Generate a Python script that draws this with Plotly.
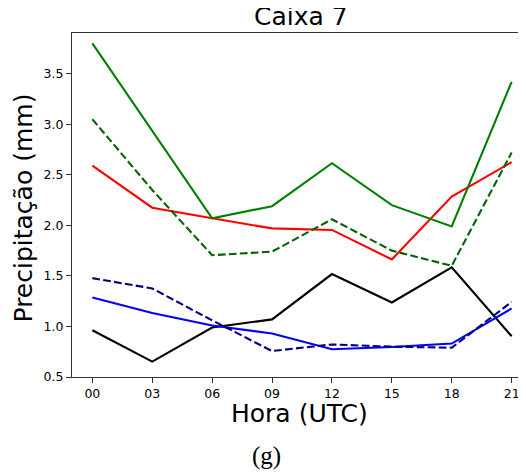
import plotly.graph_objects as go

# hours (UTC) and tick labels
hours = [0, 3, 6, 9, 12, 15, 18, 21]
hour_labels = ["00", "03", "06", "09", "12", "15", "18", "21"]
y_ticks = [0.5, 1.0, 1.5, 2.0, 2.5, 3.0, 3.5]
y_tick_labels = ["0.5", "1.0", "1.5", "2.0", "2.5", "3.0", "3.5"]

# precipitation (mm) per series
green_solid = [3.80, 2.94, 2.07, 2.19, 2.615, 2.20, 1.99, 3.42]
green_dashed = [3.05, 2.35, 1.705, 1.74, 2.06, 1.75, 1.60, 2.72]
red_solid = [2.59, 2.175, 2.07, 1.97, 1.955, 1.663, 2.285, 2.625]
black_solid = [0.963, 0.652, 0.99, 1.07, 1.518, 1.237, 1.584, 0.903]
blue_solid = [1.287, 1.134, 1.01, 0.93, 0.775, 0.797, 0.831, 1.178]
navy_dashed = [1.478, 1.376, 1.06, 0.757, 0.822, 0.80, 0.79, 1.243]

DASH = "7.7px,3.3px"
series = [
    (black_solid, "black", "solid"),
    (red_solid, "#ff0000", "solid"),
    (green_solid, "#008000", "solid"),
    (green_dashed, "#006400", DASH),
    (blue_solid, "#0000ff", "solid"),
    (navy_dashed, "#000080", DASH),
]

fig = go.Figure()
for values, color, dash in series:
    fig.add_trace(
        go.Scatter(
            x=hours,
            y=values,
            mode="lines",
            showlegend=False,
            line=dict(color=color, width=2.1, dash=dash),
        )
    )

axis_style = dict(
    showgrid=False,
    zeroline=False,
    showline=True,
    linecolor="#333333",
    linewidth=1,
    ticks="outside",
    ticklen=5,
    tickwidth=1,
    tickcolor="#333333",
    tickfont=dict(family="DejaVu Sans", size=12.5, color="black"),
)
fig.update_xaxes(
    range=[-1.02, 21.72],
    tickvals=hours,
    ticktext=hour_labels,
    mirror=True,
    **axis_style,
)
fig.update_yaxes(
    range=[0.5, 3.903],
    tickvals=y_ticks,
    ticktext=y_tick_labels,
    **axis_style,
)

# the page body adds an 8px offset, so the figure is 8px smaller than the window
big = dict(family="DejaVu Sans", size=25, color="black")
fig.update_layout(
    width=518,
    height=465,
    margin=dict(l=64, r=0, t=25, b=96),
    paper_bgcolor="white",
    plot_bgcolor="white",
    annotations=[
        dict(text="Caixa 7", x=0.5047, y=1.0466, xref="paper", yref="paper",
             xanchor="center", yanchor="middle", showarrow=False, font=big),
        dict(text="Hora (UTC)", x=0.5014, y=-0.1056, xref="paper", yref="paper",
             xanchor="center", yanchor="middle", showarrow=False, font=big),
        dict(text="Precipitação (mm)", x=-0.1065, y=0.4917, xref="paper", yref="paper",
             xanchor="center", yanchor="middle", textangle=-90, showarrow=False, font=big),
        dict(text="(g)", x=0.4277, y=-0.2307, xref="paper", yref="paper",
             xanchor="center", yanchor="middle", showarrow=False,
             font=dict(family="Liberation Serif", size=25, color="black")),
    ],
)

fig.write_html("out.html")
